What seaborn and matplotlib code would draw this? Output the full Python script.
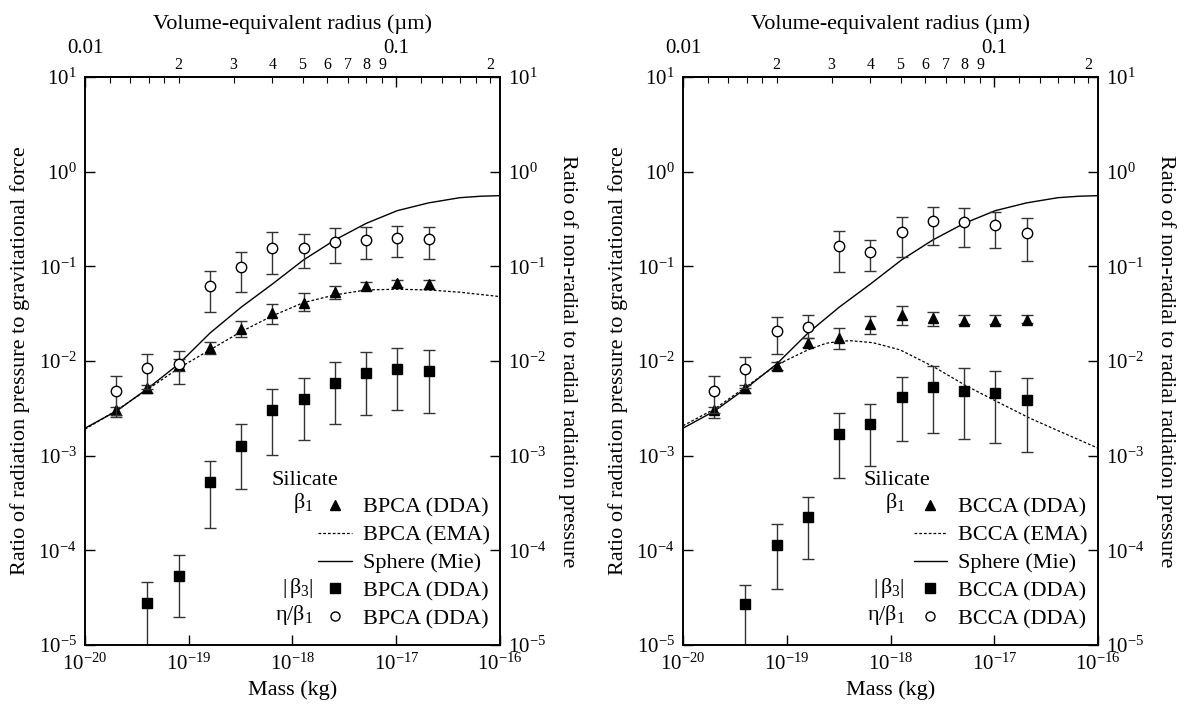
import numpy as np
import matplotlib
matplotlib.use('Agg')
import matplotlib.pyplot as plt
import seaborn as sns
from matplotlib.lines import Line2D
from matplotlib.ticker import FixedLocator, FixedFormatter, NullLocator, LogFormatterMathtext

sns.set_style("ticks")
plt.rcParams['font.family'] = ['Liberation Serif', 'DejaVu Serif']
plt.rcParams['mathtext.fontset'] = 'custom'
plt.rcParams['mathtext.rm'] = 'Liberation Serif'
plt.rcParams['mathtext.it'] = 'Liberation Serif:italic'
plt.rcParams['mathtext.bf'] = 'Liberation Serif:bold'
plt.rcParams['axes.unicode_minus'] = False
for k in ['axes.edgecolor', 'text.color', 'xtick.color', 'ytick.color', 'axes.labelcolor']:
    plt.rcParams[k] = 'black'

# --- data ---
# aggregate masses (kg) of the DDA points
mass = [2.0e-20, 4.0e-20, 8.0e-20, 1.6e-19, 3.2e-19, 6.4e-19, 1.28e-18, 2.56e-18, 5.12e-18, 1.02e-17, 2.05e-17]
mass_b3 = mass[1:]

# Sphere (Mie), same in both panels
mie_mass = [1e-20, 2e-20, 4e-20, 8e-20, 1.6e-19, 3.2e-19, 6.4e-19, 1.28e-18, 2.56e-18, 5.12e-18,
            1.02e-17, 2.05e-17, 4.1e-17, 6.5e-17, 1e-16]
mie_beta = [1.95e-3, 2.95e-3, 5.1e-3, 9.3e-3, 0.0197, 0.037, 0.065, 0.117, 0.19, 0.284,
            0.387, 0.468, 0.531, 0.55, 0.558]

# BPCA
bpca_ema_mass = [1e-20, 2e-20, 4e-20, 8e-20, 1.6e-19, 3.2e-19, 6.4e-19, 1.28e-18, 2.56e-18, 5.12e-18,
                 1.02e-17, 2.05e-17, 4.1e-17, 1e-16]
bpca_ema = [1.9e-3, 3.0e-3, 5.0e-3, 8.4e-3, 0.0131, 0.0204, 0.030, 0.0414, 0.0499, 0.0563,
            0.0573, 0.0563, 0.0533, 0.0479]
bpca_b1 = [3.05e-3, 5.16e-3, 9.0e-3, 0.0138, 0.0217, 0.0325, 0.0414, 0.0533, 0.0625, 0.0664, 0.0647]
bpca_b1_lo = [2.55e-3, 4.55e-3, 7.8e-3, 0.0118, 0.0178, 0.0247, 0.0338, 0.0453, 0.0564, 0.060, 0.058]
bpca_b1_hi = [3.3e-3, 5.6e-3, 0.0105, 0.0159, 0.0265, 0.040, 0.052, 0.0625, 0.069, 0.0718, 0.071]
bpca_eta = [4.83e-3, 8.5e-3, 9.3e-3, 0.0621, 0.0993, 0.158, 0.158, 0.181, 0.189, 0.198, 0.193]
bpca_eta_lo = [2.7e-3, 5.0e-3, 5.7e-3, 0.0333, 0.054, 0.0838, 0.0955, 0.109, 0.119, 0.125, 0.119]
bpca_eta_hi = [7.0e-3, 0.0118, 0.0129, 0.0893, 0.141, 0.229, 0.218, 0.252, 0.259, 0.269, 0.262]
bpca_b3 = [2.77e-5, 5.42e-5, 5.25e-4, 1.28e-3, 3.05e-3, 4.0e-3, 5.83e-3, 7.43e-3, 8.19e-3, 7.8e-3]
bpca_b3_lo = [1.0e-5, 1.99e-5, 1.74e-4, 4.43e-4, 1.02e-3, 1.47e-3, 2.17e-3, 2.68e-3, 3.05e-3, 2.81e-3]
bpca_b3_hi = [4.6e-5, 8.9e-5, 8.8e-4, 2.17e-3, 5.03e-3, 6.6e-3, 9.7e-3, 0.0124, 0.0136, 0.013]

# BCCA
bcca_ema_mass = [1e-20, 2e-20, 4e-20, 8e-20, 1.6e-19, 2.4e-19, 3.2e-19, 4.1e-19, 6.8e-19, 1.24e-18,
                 2.6e-18, 5.4e-18, 1.14e-17, 2.2e-17, 4.3e-17, 1e-16]
bcca_ema = [2.07e-3, 3.1e-3, 5.28e-3, 9.1e-3, 0.0131, 0.0154, 0.0161, 0.0164, 0.0156, 0.0131,
            8.7e-3, 5.45e-3, 3.58e-3, 2.49e-3, 1.80e-3, 1.20e-3]
bcca_b1 = [3.05e-3, 5.16e-3, 8.93e-3, 0.0156, 0.0177, 0.0245, 0.0307, 0.0283, 0.0265, 0.0265, 0.0272]
bcca_b1_lo = [2.5e-3, 4.6e-3, 8.05e-3, 0.014, 0.0133, 0.0193, 0.024, 0.0235, 0.0245, 0.0245, 0.025]
bcca_b1_hi = [3.3e-3, 5.6e-3, 9.86e-3, 0.0174, 0.0222, 0.030, 0.0382, 0.0333, 0.0303, 0.0303, 0.0305]
bcca_eta = [4.83e-3, 8.19e-3, 0.0205, 0.0231, 0.164, 0.141, 0.229, 0.301, 0.292, 0.272, 0.224]
bcca_eta_lo = [2.8e-3, 5.2e-3, 0.0118, 0.0175, 0.0867, 0.090, 0.125, 0.168, 0.161, 0.155, 0.115]
bcca_eta_hi = [7.0e-3, 0.0109, 0.029, 0.0307, 0.237, 0.19, 0.330, 0.427, 0.417, 0.375, 0.327]
bcca_b3 = [2.71e-5, 1.135e-4, 2.24e-4, 1.69e-3, 2.15e-3, 4.15e-3, 5.28e-3, 4.87e-3, 4.57e-3, 3.86e-3]
bcca_b3_lo = [1.0e-5, 3.89e-5, 8.07e-5, 5.78e-4, 7.8e-4, 1.44e-3, 1.75e-3, 1.49e-3, 1.37e-3, 1.10e-3]
bcca_b3_hi = [4.33e-5, 1.89e-4, 3.7e-4, 2.85e-3, 3.55e-3, 6.85e-3, 8.87e-3, 8.4e-3, 7.8e-3, 6.58e-3]

# axis ticks
x_ticks = [1e-20, 1e-19, 1e-18, 1e-17, 1e-16]
y_ticks = [1e-5, 1e-4, 1e-3, 1e-2, 1e-1, 1e0, 1e1]
r_major = [0.01, 0.1]
r_major_lab = ['0.01', '0.1']
r_minor = [0.012, 0.014, 0.016, 0.018, 0.02, 0.03, 0.04, 0.05, 0.06, 0.07, 0.08, 0.09,
           0.12, 0.14, 0.16, 0.18, 0.2]
r_minor_lab = ['', '', '', '', '2', '3', '4', '5', '6', '7', '8', '9', '', '', '', '', '2']

DASH = (0, (2.2, 1.6))
FS = 15
LFS = 16


def m2r(m):
    return 0.01 * np.cbrt(np.asarray(m, dtype=float) / 1e-20)


def r2m(r):
    return 1e-20 * (np.asarray(r, dtype=float) / 0.01) ** 3


def errbar(ax, x, y, lo, hi, marker, face, z):
    y = np.array(y)
    yerr = [y - np.array(lo), np.array(hi) - y]
    ax.errorbar(x, y, yerr=yerr, fmt=marker, ms=7.5, mfc=face, mec='black', mew=1.0,
                ecolor='0.2', elinewidth=1.0, capsize=4.5, capthick=1.0, zorder=z)


def panel(ax, agg, ema_m, ema_v, b1, b1_lo, b1_hi, eta, eta_lo, eta_hi, b3, b3_lo, b3_hi, gx):
    ax.set(xscale='log', yscale='log')
    sns.lineplot(x=mie_mass, y=mie_beta, ax=ax, color='black', lw=1.0, zorder=2)
    sns.lineplot(x=ema_m, y=ema_v, ax=ax, color='black', lw=0.9, linestyle=DASH, zorder=2)
    errbar(ax, mass, b1, b1_lo, b1_hi, '^', 'black', 4)
    errbar(ax, mass_b3, b3, b3_lo, b3_hi, 's', 'black', 4)
    errbar(ax, mass, eta, eta_lo, eta_hi, 'o', 'white', 5)

    ax.set_xlim(1e-20, 1e-16)
    ax.set_ylim(1e-5, 10)
    ax.xaxis.set_major_locator(FixedLocator(x_ticks))
    ax.yaxis.set_major_locator(FixedLocator(y_ticks))
    for axis in [ax.xaxis, ax.yaxis]:
        axis.set_minor_locator(NullLocator())
        axis.set_major_formatter(LogFormatterMathtext())
    ax.tick_params(direction='in', length=7, width=1.0, labelsize=FS, top=False, right=False, pad=6)
    ax.set_xlabel('Mass (kg)', fontsize=16, labelpad=4)
    ax.set_ylabel('Ratio of radiation pressure to gravitational force', fontsize=16, labelpad=6)
    for s in ax.spines.values():
        s.set_linewidth(1.2)

    # right axis
    axr = ax.twinx()
    axr.set_yscale('log')
    axr.set_ylim(1e-5, 10)
    axr.yaxis.set_major_locator(FixedLocator(y_ticks))
    axr.yaxis.set_major_formatter(LogFormatterMathtext())
    axr.yaxis.set_minor_locator(NullLocator())
    axr.tick_params(direction='in', length=7, width=1.0, labelsize=FS, pad=6)
    axr.set_ylabel('Ratio of non-radial to radial radiation pressure', fontsize=16,
                   rotation=-90, va='bottom', labelpad=8)
    for s in axr.spines.values():
        s.set_linewidth(1.2)

    # top axis: volume-equivalent radius
    sec = ax.secondary_xaxis('top', functions=(m2r, r2m))
    sec.xaxis.set_major_locator(FixedLocator(r_major))
    sec.xaxis.set_major_formatter(FixedFormatter(r_major_lab))
    sec.xaxis.set_minor_locator(FixedLocator(r_minor))
    sec.xaxis.set_minor_formatter(FixedFormatter(r_minor_lab))
    sec.tick_params(which='major', direction='in', length=7, width=1.0, pad=14, labelsize=FS)
    sec.tick_params(which='minor', direction='in', length=4, width=0.8, pad=3, labelsize=11.5)
    sec.set_xlabel('Volume-equivalent radius (\u00b5m)', fontsize=16, labelpad=7)
    sec.spines['top'].set_linewidth(1.2)

    # legend
    handles = [Line2D([], [], marker='^', ls='none', color='black', ms=6.5),
               Line2D([], [], ls=DASH, color='black', lw=0.9),
               Line2D([], [], ls='-', color='black', lw=1.0),
               Line2D([], [], marker='s', ls='none', color='black', ms=6.5),
               Line2D([], [], marker='o', ls='none', mfc='white', mec='black', ms=6.5)]
    labels = [agg + ' (DDA)', agg + ' (EMA)', 'Sphere (Mie)', agg + ' (DDA)', agg + ' (DDA)']
    ax.legend(handles, labels, loc='lower right', bbox_to_anchor=(0.975, 0.028), frameon=False,
              fontsize=LFS, handlelength=1.5, handletextpad=0.5, labelspacing=0.33,
              borderpad=0, borderaxespad=0)
    ax.text(gx - 0.1, 0.290, 'Silicate', fontsize=LFS, ha='left', va='center', transform=ax.transAxes)
    ax.text(gx, 0.250, r'$\mathrm{\beta}_1$', fontsize=LFS, ha='right', va='center', transform=ax.transAxes)
    ax.text(gx, 0.100, r'$|\,\mathrm{\beta}_3|$', fontsize=LFS, ha='right', va='center', transform=ax.transAxes)
    ax.text(gx, 0.053, r'$\mathrm{\eta}/\mathrm{\beta}_1$', fontsize=LFS, ha='right', va='center',
            transform=ax.transAxes)


fig = plt.figure(figsize=(11.84, 7.16), dpi=100)
ax1 = fig.add_axes([85 / 1184, 71 / 716, 415 / 1184, 568 / 716])
ax2 = fig.add_axes([683 / 1184, 71 / 716, 415 / 1184, 568 / 716])

panel(ax1, 'BPCA', bpca_ema_mass, bpca_ema, bpca_b1, bpca_b1_lo, bpca_b1_hi,
      bpca_eta, bpca_eta_lo, bpca_eta_hi, bpca_b3, bpca_b3_lo, bpca_b3_hi, 0.55)
panel(ax2, 'BCCA', bcca_ema_mass, bcca_ema, bcca_b1, bcca_b1_lo, bcca_b1_hi,
      bcca_eta, bcca_eta_lo, bcca_eta_hi, bcca_b3, bcca_b3_lo, bcca_b3_hi, 0.535)

fig.savefig('out.png', dpi=100)
